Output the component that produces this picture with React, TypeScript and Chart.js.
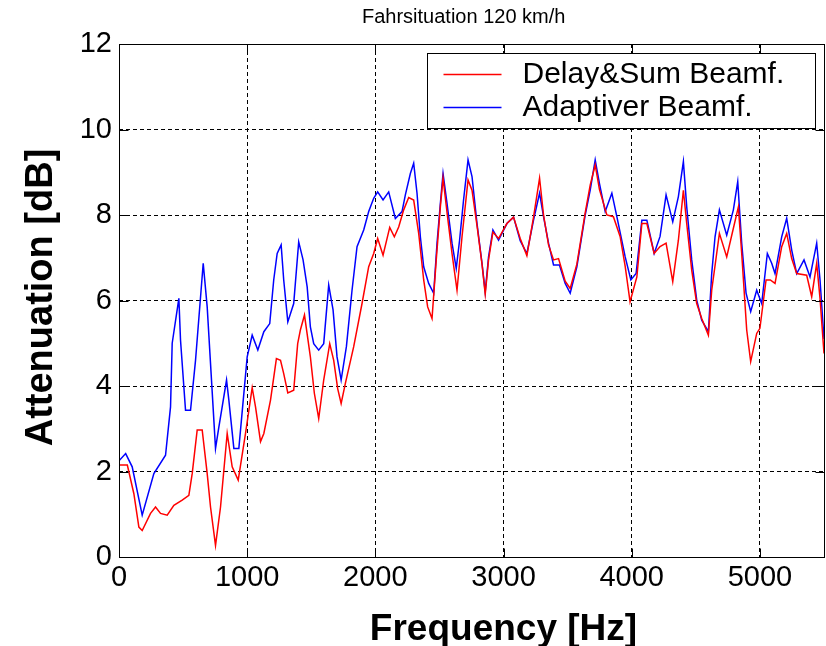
import React, { useEffect, useRef } from "react";
import { Chart, registerables } from "chart.js";

Chart.register(...registerables);

// ---------- text ----------
const TITLE = "Fahrsituation 120 km/h";
const X_LABEL = "Frequency [Hz]";
const Y_LABEL = "Attenuation [dB]";
const SERIES_NAMES = ["Delay&Sum Beamf.", "Adaptiver Beamf."];
const SERIES_COLORS = ["#ff0000", "#0000ff"];

// ---------- axes ----------
const X_MIN = 0;
const X_MAX = 5500;
const X_TICKS = [0, 1000, 2000, 3000, 4000, 5000];
const Y_MIN = 0;
const Y_MAX = 12;
const Y_TICKS = [0, 2, 4, 6, 8, 10, 12];

// ---------- data: Delay&Sum beamformer ----------
const delaySumFreq = [
  0, 65, 116, 155, 181, 246, 285, 324, 376, 428, 493, 545, 571, 610, 649, 688, 714, 753, 792, 844,
  883, 930, 987, 1039, 1065, 1104, 1130, 1182, 1228, 1260, 1285, 1317, 1363, 1394, 1415, 1447, 1493,
  1524, 1558, 1597, 1644, 1675, 1706, 1733, 1766, 1831, 1896, 1948, 1987, 2018, 2060, 2112, 2148,
  2182, 2221, 2260, 2299, 2338, 2377, 2408, 2442, 2475, 2507, 2528, 2563, 2598, 2637, 2676, 2723,
  2754, 2793, 2832, 2857, 2883, 2917, 2961, 3026, 3078, 3130, 3182, 3234, 3281, 3312, 3351, 3390,
  3429, 3481, 3520, 3572, 3637, 3676, 3715, 3748, 3806, 3857, 3910, 3949, 3987, 4040, 4079, 4118,
  4175, 4221, 4268, 4320, 4364, 4403, 4429, 4468, 4507, 4546, 4598, 4624, 4684, 4741, 4793, 4832,
  4858, 4897, 4928, 4975, 5000, 5048, 5081, 5118, 5170, 5209, 5248, 5287, 5365, 5404, 5443, 5469,
  5500,
];
const delaySumDb = [
  2.15, 2.15, 1.48, 0.7, 0.62, 1.02, 1.17, 1.02, 0.98, 1.21, 1.33, 1.44, 1.95, 2.97, 2.97, 1.95,
  1.17, 0.27, 1.17, 2.89, 2.11, 1.8, 2.89, 3.96, 3.51, 2.7, 2.89, 3.67, 4.64, 4.6, 4.29, 3.84, 3.9,
  4.99, 5.31, 5.66, 4.68, 3.83, 3.24, 4.14, 4.99, 4.6, 3.94, 3.59, 4.06, 4.92, 5.93, 6.79, 7.1,
  7.45, 7.06, 7.71, 7.49, 7.72, 8.12, 8.41, 8.35, 7.57, 6.48, 5.85, 5.58, 6.95, 8.19, 8.86, 7.96,
  7.1, 6.24, 7.49, 8.82, 8.58, 7.75, 6.85, 6.15, 6.95, 7.6, 7.45, 7.8, 7.95, 7.45, 7.05, 7.95,
  8.86, 8.0, 7.3, 6.95, 6.98, 6.45, 6.28, 6.85, 8.05, 8.7, 9.17, 8.6, 8.0, 7.96, 7.49, 6.8, 5.97,
  6.55, 7.8, 7.8, 7.1, 7.26, 7.34, 6.44, 7.41, 8.58, 7.8, 6.71, 5.93, 5.58, 5.19, 6.24, 7.57, 7.02,
  7.69, 8.19, 7.1, 5.31, 4.57, 5.23, 5.35, 6.48, 6.48, 6.4, 7.26, 7.57, 6.98, 6.63, 6.59, 6.09,
  6.87, 6.05, 4.76,
];

// ---------- data: adaptive beamformer ----------
const adaptiveFreq = [
  0, 52, 103, 181, 272, 363, 402, 415, 467, 480, 519, 558, 597, 657, 688, 753, 779, 839, 857, 896,
  935, 1000, 1039, 1083, 1130, 1176, 1207, 1234, 1265, 1285, 1317, 1363, 1402, 1436, 1468, 1493,
  1519, 1558, 1597, 1636, 1670, 1701, 1733, 1774, 1818, 1857, 1909, 1948, 1987, 2018, 2060, 2104,
  2156, 2208, 2234, 2273, 2299, 2325, 2351, 2377, 2416, 2455, 2481, 2507, 2528, 2559, 2598, 2631,
  2657, 2688, 2723, 2754, 2793, 2832, 2857, 2883, 2917, 2961, 3026, 3078, 3130, 3182, 3234, 3281,
  3312, 3351, 3390, 3436, 3481, 3520, 3572, 3637, 3676, 3715, 3748, 3793, 3845, 3884, 3949, 3993,
  4034, 4079, 4118, 4175, 4221, 4268, 4320, 4364, 4403, 4429, 4468, 4507, 4546, 4598, 4624, 4650,
  4684, 4741, 4793, 4827, 4858, 4892, 4928, 4975, 5014, 5058, 5092, 5118, 5170, 5209, 5248, 5287,
  5344, 5391, 5443, 5469, 5500,
];
const adaptiveDb = [
  2.25, 2.42, 2.11, 0.98, 1.95, 2.38, 3.51, 5.0, 6.05, 5.07, 3.43, 3.43, 4.6, 6.87, 5.85, 2.54,
  3.04, 4.14, 3.67, 2.54, 2.54, 4.68, 5.19, 4.84, 5.27, 5.46, 6.48, 7.1, 7.3, 6.48, 5.5, 5.93, 7.37,
  6.95, 6.32, 5.38, 4.99, 4.84, 4.99, 6.36, 5.78, 4.68, 4.14, 4.92, 6.24, 7.26, 7.65, 8.08, 8.39,
  8.54, 8.35, 8.54, 7.92, 8.08, 8.47, 8.97, 9.21, 8.51, 7.49, 6.79, 6.4, 6.17, 7.34, 8.27, 8.97,
  8.27, 7.34, 6.75, 7.41, 8.35, 9.29, 8.9, 7.8, 6.87, 6.2, 7.02, 7.65, 7.41, 7.8, 7.95, 7.4, 7.1,
  7.88, 8.51, 7.96, 7.34, 6.83, 6.83, 6.4, 6.17, 6.79, 8.0, 8.58, 9.29, 8.74, 8.08, 8.51, 7.96,
  7.02, 6.48, 6.63, 7.88, 7.88, 7.1, 7.5, 8.47, 7.84, 8.43, 9.25, 8.19, 6.95, 6.01, 5.54, 5.27,
  6.63, 7.49, 8.12, 7.53, 8.12, 8.78, 7.34, 6.17, 5.74, 6.24, 5.93, 7.1, 6.87, 6.63, 7.49, 7.92,
  7.18, 6.63, 6.95, 6.55, 7.34, 6.48, 5.1,
];

const FONT = '"Liberation Sans", Arial, Helvetica, sans-serif';

const toPoints = (xs: number[], ys: number[]) => xs.map((x, i) => ({ x, y: ys[i] }));

const decorPlugin = {
  id: "matlabDecor",
  afterDraw(chart: any) {
    const { ctx, chartArea: a, scales } = chart;
    const L = Math.round(a.left) + 0.5;
    const R = Math.round(a.right) + 0.5;
    const T = Math.round(a.top) + 0.5;
    const B = Math.round(a.bottom) + 0.5;
    ctx.save();
    ctx.setLineDash([]);
    ctx.strokeStyle = "#000";
    ctx.lineWidth = 1;

    // inward tick marks
    const tl = 9;
    ctx.beginPath();
    scales.x.ticks.forEach((t: any) => {
      const px = Math.round(scales.x.getPixelForValue(t.value)) + 0.5;
      ctx.moveTo(px, B);
      ctx.lineTo(px, B - tl);
      ctx.moveTo(px, T);
      ctx.lineTo(px, T + tl);
    });
    scales.y.ticks.forEach((t: any) => {
      const py = Math.round(scales.y.getPixelForValue(t.value)) + 0.5;
      ctx.moveTo(L, py);
      ctx.lineTo(L + tl, py);
      ctx.moveTo(R, py);
      ctx.lineTo(R - tl, py);
    });
    ctx.stroke();

    // axes frame
    ctx.strokeRect(L, T, R - L, B - T);

    // legend box (upper right inside the axes)
    const bw = 388;
    const bh = 75;
    const bx = Math.round(a.right) - 9 - bw + 0.5;
    const by = Math.round(a.top) + 9 + 0.5;
    ctx.fillStyle = "#fff";
    ctx.fillRect(bx, by, bw, bh);
    ctx.strokeRect(bx, by, bw, bh);
    ctx.font = `30px ${FONT}`;
    ctx.textAlign = "left";
    ctx.textBaseline = "middle";
    chart.data.datasets.forEach((ds: any, i: number) => {
      const ly = Math.round(by + 20 + i * 33.5) + 0.5;
      ctx.strokeStyle = ds.borderColor;
      ctx.lineWidth = 1.5;
      ctx.beginPath();
      ctx.moveTo(bx + 16, ly);
      ctx.lineTo(bx + 74, ly);
      ctx.stroke();
      ctx.fillStyle = "#000";
      ctx.fillText(ds.label, bx + 95, ly);
    });

    // title
    ctx.fillStyle = "#000";
    ctx.textBaseline = "alphabetic";
    ctx.textAlign = "left";
    ctx.font = `20px ${FONT}`;
    ctx.fillText(TITLE, 362, 23);

    // x label
    ctx.textAlign = "center";
    ctx.font = `bold 37px ${FONT}`;
    ctx.fillText(X_LABEL, 503.5, 640);

    // y label
    ctx.translate(51.7, 297.5);
    ctx.rotate(-Math.PI / 2);
    ctx.font = `bold 38px ${FONT}`;
    ctx.fillText(Y_LABEL, 0, 0);
    ctx.restore();
  },
};

export default function App() {
  const ref = useRef<HTMLCanvasElement | null>(null);

  useEffect(() => {
    if (!ref.current) return;
    const chart = new Chart(ref.current, {
      type: "line",
      data: {
        datasets: [
          {
            label: SERIES_NAMES[0],
            data: toPoints(delaySumFreq, delaySumDb),
            borderColor: SERIES_COLORS[0],
            backgroundColor: SERIES_COLORS[0],
            borderWidth: 1.5,
            pointRadius: 0,
            tension: 0,
            fill: false,
          },
          {
            label: SERIES_NAMES[1],
            data: toPoints(adaptiveFreq, adaptiveDb),
            borderColor: SERIES_COLORS[1],
            backgroundColor: SERIES_COLORS[1],
            borderWidth: 1.5,
            pointRadius: 0,
            tension: 0,
            fill: false,
          },
        ],
      },
      options: {
        animation: false,
        responsive: false,
        maintainAspectRatio: false,
        devicePixelRatio: 1,
        layout: { padding: { top: 44, right: 2, left: 0, bottom: 0 } },
        plugins: {
          legend: { display: false },
          title: { display: false },
          tooltip: { enabled: false },
        },
        scales: {
          x: {
            type: "linear",
            min: X_MIN,
            max: X_MAX,
            afterBuildTicks: (s: any) => {
              s.ticks = X_TICKS.map((value) => ({ value }));
            },
            afterFit: (s: any) => {
              s.height = 89;
            },
            ticks: {
              autoSkip: false,
              color: "#000",
              padding: 6,
              maxRotation: 0,
              minRotation: 0,
              font: { family: FONT, size: 29, lineHeight: 1 },
              callback: (v: any) => String(v),
            },
            grid: {
              color: "#000",
              lineWidth: 1,
              drawTicks: false,
            },
            border: { display: false, dash: [4, 3] },
          },
          y: {
            type: "linear",
            min: Y_MIN,
            max: Y_MAX,
            afterBuildTicks: (s: any) => {
              s.ticks = Y_TICKS.map((value) => ({ value }));
            },
            afterFit: (s: any) => {
              s.width = 119;
            },
            ticks: {
              autoSkip: false,
              color: "#000",
              padding: 7,
              font: { family: FONT, size: 29, lineHeight: 1 },
              callback: (v: any) => String(v),
            },
            grid: {
              color: "#000",
              lineWidth: 1,
              drawTicks: false,
            },
            border: { display: false, dash: [4, 3] },
          },
        },
      },
      plugins: [decorPlugin],
    });
    return () => chart.destroy();
  }, []);

  return (
    <div style={{ position: "fixed", left: 0, top: 0, width: 826, height: 646, background: "#fff" }}>
      <canvas ref={ref} width={826} height={646} style={{ display: "block", width: 826, height: 646 }} />
    </div>
  );
}
